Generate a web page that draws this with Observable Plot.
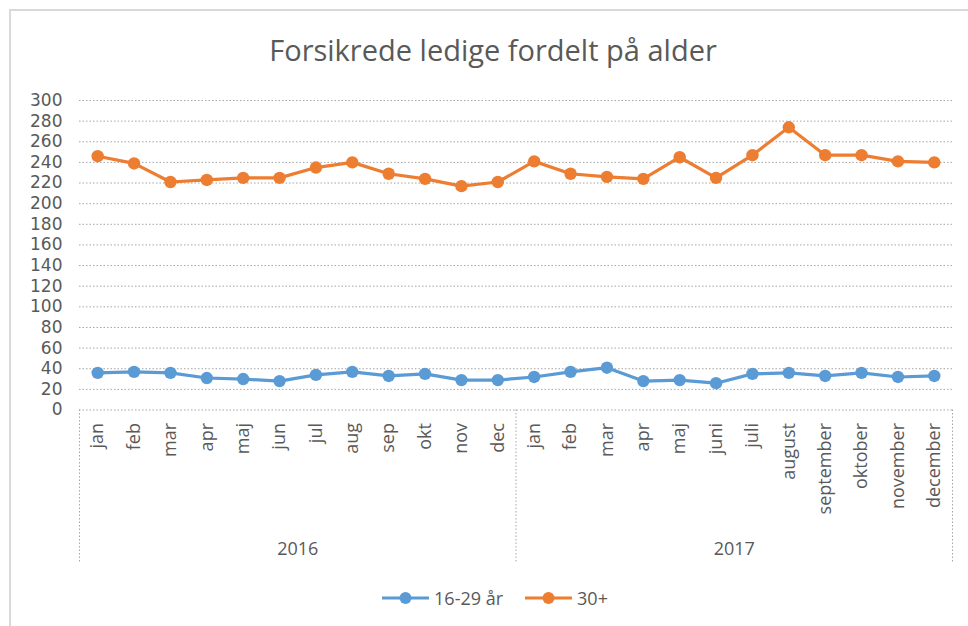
<!DOCTYPE html>
<html>
<head>
<meta charset="utf-8">
<script src="https://cdn.jsdelivr.net/npm/d3@7"></script>
<script src="https://cdn.jsdelivr.net/npm/@observablehq/plot@0.6"></script>
<style>
  body { margin: 0; background: #fff; font-family: "Open Sans", sans-serif; }
  #wrap { position: relative; width: 968px; height: 626px; overflow: hidden; background: #fff; }
  #frame { position: absolute; left: 9px; top: 9px; right: -5px; bottom: -5px;
           border-left: 2px solid #d9d9d9; border-top: 2px solid #d9d9d9; }
  #title { position: absolute; left: 0; top: 31px; width: 968px; padding-left: 18px; box-sizing: border-box;
           text-align: center; font-size: 29px; line-height: 38px; color: #595959; }
  #chart { position: absolute; left: 0; top: 80px; }
  #legend { position: absolute; left: 0; top: 586px; width: 968px; padding-left: 22px; box-sizing: border-box;
            display: flex; justify-content: center; align-items: center; gap: 22px;
            font-size: 18px; line-height: 24px; color: #595959; }
  .item { display: flex; align-items: center; gap: 5px; }
</style>
</head>
<body>
<div id="wrap">
  <div id="frame"></div>
  <div id="title">Forsikrede ledige fordelt på alder</div>
  <div id="chart"></div>
  <div id="legend"></div>
</div>
<script>
const years = ["2016", "2017"];
const months2016 = ["jan","feb","mar","apr","maj","jun","jul","aug","sep","okt","nov","dec"];
const months2017 = ["jan","feb","mar","apr","maj","juni","juli","august","september","oktober","november","december"];
const seriesNames = ["16-29 år", "30+"];
const seriesColors = ["#5B9BD5", "#ED7D31"];
const young2016 = [36, 37, 36, 31, 30, 28, 34, 37, 33, 35, 29, 29];
const young2017 = [32, 37, 41, 28, 29, 26, 35, 36, 33, 36, 32, 33];
const old2016 = [246, 239, 221, 223, 225, 225, 235, 240, 229, 224, 217, 221];
const old2017 = [241, 229, 226, 224, 245, 225, 247, 274, 247, 247, 241, 240];
const yTicks = [0, 20, 40, 60, 80, 100, 120, 140, 160, 180, 200, 220, 240, 260, 280, 300];

const monthLabels = months2016.concat(months2017);
const seriesValues = [young2016.concat(young2017), old2016.concat(old2017)];
const rows = [];
seriesNames.forEach((s, k) => {
  seriesValues[k].forEach((v, i) => rows.push({series: s, i, value: v}));
});
const idx = monthLabels.map((_, i) => i);
const yearCenters = [(months2016.length - 1) / 2, months2016.length + (months2017.length - 1) / 2];
const separators = [-0.5, months2016.length - 0.5, monthLabels.length - 0.5];

const chart = Plot.plot({
  width: 968,
  height: 500,
  marginTop: 20,
  marginLeft: 79,
  marginRight: 16,
  marginBottom: 170.5,
  style: {fontFamily: "Open Sans", fontSize: "18px", color: "#595959", background: "transparent"},
  x: {type: "linear", domain: [-0.5, monthLabels.length - 0.5], label: null},
  y: {domain: [0, 300], label: null},
  color: {domain: seriesNames, range: seriesColors},
  marks: [
    Plot.gridY(yTicks, {stroke: "#a6a6a6", strokeOpacity: 1, strokeDasharray: "1.5 2"}),
    Plot.axisY(yTicks, {tickSize: 0, tickPadding: 17, fontSize: 17, fontFamily: "DejaVu Sans", label: null}),
    Plot.axisX(idx, {tickSize: 0, tickPadding: 13, tickRotate: -90, fontSize: 18,
                     tickFormat: i => monthLabels[i], label: null}),
    Plot.axisX(separators, {tickSize: 153, tickFormat: () => "", stroke: "#a6a6a6",
                            strokeOpacity: 1, strokeDasharray: "1.5 2", label: null}),
    Plot.axisX(yearCenters, {tickSize: 0, tickPadding: 132, fontSize: 18,
                             tickFormat: (d, j) => years[j], label: null}),
    Plot.line(rows, {x: "i", y: "value", z: "series", stroke: "series", strokeWidth: 3.2}),
    Plot.dot(rows, {x: "i", y: "value", fill: "series", r: 6.2})
  ]
});
document.getElementById("chart").appendChild(chart);

const legend = document.getElementById("legend");
seriesNames.forEach((s, k) => {
  const item = document.createElement("div");
  item.className = "item";
  item.innerHTML = `<svg width="47" height="14"><line x1="0" x2="47" y1="7" y2="7" stroke="${seriesColors[k]}" stroke-width="3"/><circle cx="23.5" cy="7" r="6" fill="${seriesColors[k]}"/></svg><span>${s}</span>`;
  legend.appendChild(item);
});
</script>
</body>
</html>
